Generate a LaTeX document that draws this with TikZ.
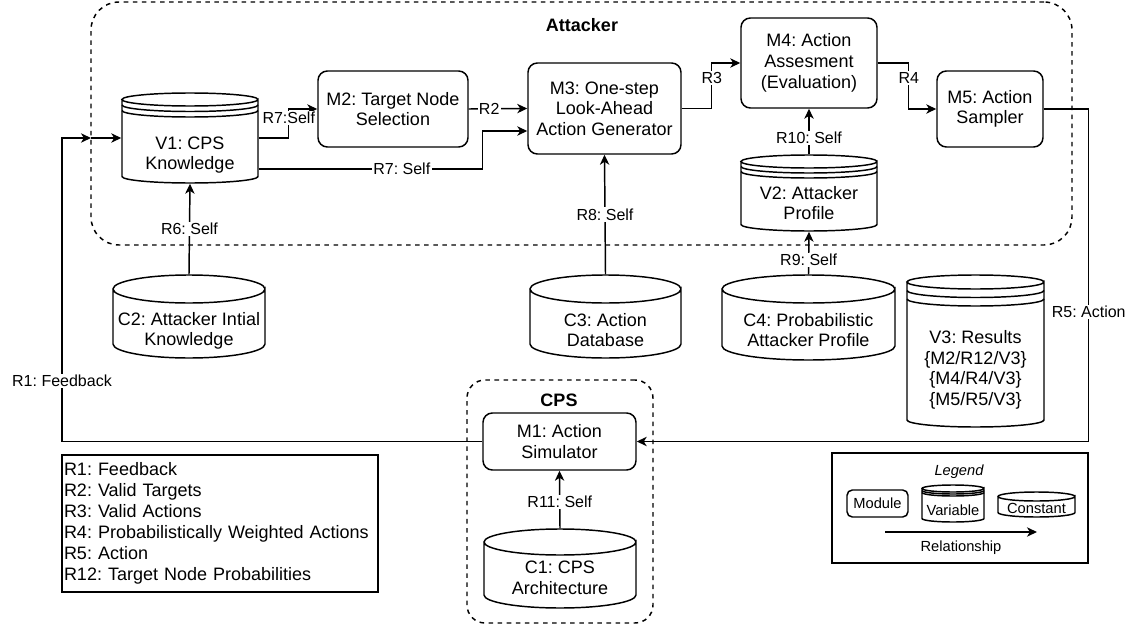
\documentclass[tikz,border=0pt]{standalone}
\usepackage{fontspec}
\setmainfont{Liberation Sans}
\usetikzlibrary{arrows.meta,calc,fit}

\tikzset{every picture/.style={line width=1.1pt}}
\tikzset{
  module/.style={draw, rounded corners=7pt, align=center, inner sep=0pt,
    font=\fontsize{13.5}{15.5}\selectfont},
  cyltext/.style={align=center, inner sep=0pt, font=\fontsize{13.5}{15.5}\selectfont},
  group/.style={draw, dash pattern=on 3.4pt off 3.4pt},
  grouptitle/.style={inner sep=0pt, font=\fontsize{13.5}{15.5}\selectfont\bfseries},
  rel/.style={-{Stealth[length=7.5pt,width=7pt,inset=2.2pt]}},
  lbl/.style={fill=white, inner sep=1pt, font=\fontsize{12}{14}\selectfont},
  legendtext/.style={inner sep=0pt, font=\fontsize{11}{13}\selectfont},
}

% cylinder outline: x1, y1, x2, y2, ry
\newcommand{\cylbody}[5]{%
  \pgfmathsetmacro{\cylrx}{(#3-#1)/2}
  \draw[fill=white] (#1,#2+#5) -- (#1,#4-#5)
    arc[start angle=180, end angle=0, x radius=\cylrx, y radius=#5] -- (#3,#2+#5)
    arc[start angle=0, end angle=360, x radius=\cylrx, y radius=#5];
}
% constant: name, x1, y1, x2, y2, ry, text y, text
\newcommand{\constcyl}[8]{%
  \cylbody{#2}{#3}{#4}{#5}{#6}
  \coordinate (#1-nw) at (#2,#3);
  \coordinate (#1-se) at (#4,#5);
  \node[fit=(#1-nw)(#1-se), inner sep=0pt] (#1) {};
  \node[cyltext] (#1-txt) at ({(#2+#4)/2},#7) {#8};
}
% variable: name, x1, y1, x2, y2, ry, ring gap, text y, text
\newcommand{\varcyl}[9]{%
  \constcyl{#1}{#2}{#3}{#4}{#5}{#6}{#8}{#9}
  \draw (#2,#3+#6+#7) arc[start angle=180, end angle=0, x radius=\cylrx, y radius=#6];
  \draw (#2,#3+#6+2*#7) arc[start angle=180, end angle=0, x radius=\cylrx, y radius=#6];
}

\begin{document}
\frenchspacing
\begin{tikzpicture}[x=0.75pt,y=0.75pt,yscale=-1,xscale=1]
\useasboundingbox (0,0) rectangle (1133,628);

%Groups
\node[group, rounded corners=21pt, minimum width=735.75pt, minimum height=182.25pt] (attacker) at (581.5,123.5) {};
\node[grouptitle] (attacker-title) at (582,25) {Attacker};
\node[group, rounded corners=13.5pt, minimum width=139.5pt, minimum height=182.25pt] (cps) at (560,501.5) {};
\node[grouptitle] (cps-title) at (559,400) {CPS};

%Modules
\node[module, minimum width=112.5pt, minimum height=57pt] (m2) at (393,109) {M2: Target Node\\Selection};
\node[module, minimum width=114.75pt, minimum height=68.25pt] (m3) at (604.5,108.5) {M3: One-step\\Look-Ahead\\Action Generator};
\node[module, minimum width=102pt, minimum height=67.5pt] (m4) at (809,63) {M4: Action\\Assesment\\(Evaluation)};
\node[module, minimum width=79.5pt, minimum height=57pt] (m5) at (990,109) {M5: Action\\Sampler};
\node[module, minimum width=114.75pt, minimum height=42.75pt] (m1) at (559.5,441.5) {M1: Action\\Simulator};

%Variables
\varcyl{v1}{122}{93}{258}{183}{6.5}{5.5}{155}{V1: CPS\\Knowledge}
\varcyl{v2}{741}{155}{877}{231}{6.5}{5}{203}{V2: Attacker\\Profile}
\varcyl{v3}{907}{275}{1044}{427}{7}{8.5}{370}{V3: Results\\\{M2/R12/V3\}\\\{M4/R4/V3\}\\\{M5/R5/V3\}}

%Constants
\constcyl{c2}{113}{275}{265}{358}{14}{331}{C2: Attacker Intial\\Knowledge}
\constcyl{c3}{530}{275}{681}{358}{14}{330}{C3: Action\\Database}
\constcyl{c4}{722}{275}{895}{360}{14}{330}{C4: Probabilistic\\Attacker Profile}
\constcyl{c1}{484}{529}{636}{608}{13}{578}{C1: CPS\\Architecture}

%Relationships
\coordinate (fbturn) at (62,138);
\coordinate (fbin) at (91,138);
\draw[rel] (m1.west) -| node[lbl, pos=0.6] {R1: Feedback} (fbturn) -- (fbin);
\draw[rel] (fbin) -- (v1.west);
\draw[rel] (v1.east) -- ++(30,0) |- node[lbl, pos=0.345] {R7:Self} (m2.west);
\draw[rel] ($(v1.east)+(0,31)$) -| node[lbl, pos=0.32] {R7: Self} ($(m3.west)+(-45,22.5)$) -- ($(m3.west)+(0,22.5)$);
\draw[rel] (m2.east) -- node[lbl, pos=0.35] {R2} (m3.west);
\draw[rel] (m3.east) -- ++(30,0) |- node[lbl, pos=0.335] {R3} (m4.west);
\draw[rel] (m4.east) -- ++(31,0) |- node[lbl, pos=0.165] {R4} (m5.west);
\draw[rel] (m5.east) -- ++(45,0) |- node[lbl, pos=0.305] {R5: Action} (m1.east);
\draw[rel] (c2.north) -- node[lbl, pos=0.5] {R6: Self} (v1.south);
\draw[rel] (c3.north) -- node[lbl, pos=0.5] {R8: Self} (m3.south);
\draw[rel] (c4.north) -- node[lbl, pos=0.33] {R9: Self} (v2.south);
\draw[rel] (v2.north) -- node[lbl, pos=0.36] {R10: Self} (m4.south);
\draw[rel] (c1.north) -- node[lbl, pos=0.46] {R11: Self} (m1.south);

%Relationship list
\node[draw, align=left, text width=234pt, inner xsep=1.5pt, minimum height=102.75pt,
  font=\fontsize{13.5}{15.75}\selectfont] (rlist) at (220,523.5)
  {R1: Feedback\\R2: Valid Targets\\R3: Valid Actions\\R4: Probabilistically Weighted Actions\\R5: Action\\R12: Target Node Probabilities};

%Legend
\node[draw, minimum width=192pt, minimum height=82.5pt] (legend) at (960,508) {};
\node[legendtext, font=\fontsize{11}{13}\selectfont\itshape] (legend-title) at (959,472) {Legend};
\node[draw, rounded corners=4pt, minimum width=45.75pt, minimum height=20.25pt, legendtext] (lg-module) at (877.5,503.5) {Module};
\varcyl{lg-var}{922}{485}{984}{522}{3.5}{2}{510}{{\fontsize{11}{13}\selectfont Variable}}
\constcyl{lg-const}{998}{492}{1075}{517}{4.5}{508}{{\fontsize{11}{13}\selectfont Constant}}
\coordinate (lg-a) at (885,532);
\coordinate (lg-b) at (1037,532);
\draw[rel] (lg-a) -- (lg-b);
\node[legendtext] (lg-rel) at (961,548) {Relationship};

\end{tikzpicture}
\end{document}
